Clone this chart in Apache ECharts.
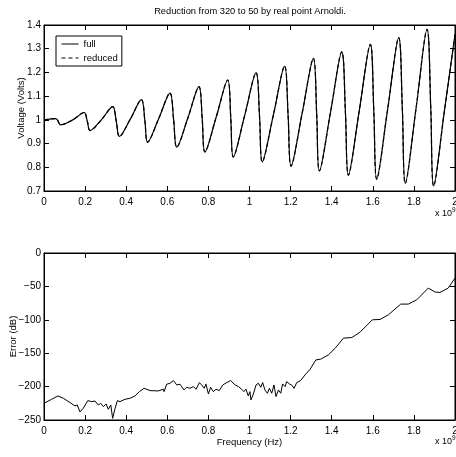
<!DOCTYPE html>
<html><head><meta charset="utf-8">
<script src="https://cdn.jsdelivr.net/npm/echarts@6/dist/echarts.min.js"></script>
<style>html,body{margin:0;padding:0;background:#fff}#c{width:456px;height:457px}</style>
</head><body><div id="c"></div>
<script>
// Frequency in units of 1e9 Hz
const voltX = [0, 0.058, 0.081, 0.14, 0.195, 0.211, 0.224, 0.279, 0.334, 0.352, 0.367, 0.420, 0.474, 0.491, 0.504,
  0.558, 0.613, 0.631, 0.646, 0.700, 0.754, 0.770, 0.783, 0.838, 0.894, 0.909, 0.921, 0.976, 1.032, 1.049, 1.062,
  1.116, 1.171, 1.188, 1.202, 1.256, 1.311, 1.327, 1.340, 1.394, 1.449, 1.467, 1.481, 1.534, 1.588, 1.605, 1.619,
  1.672, 1.726, 1.744, 1.758, 1.811, 1.864, 1.882, 1.896, 1.948, 2.0];
const voltFull = [1.0, 1.005, 0.979, 1.0, 1.031, 0.993, 0.955, 1.0, 1.056, 0.993, 0.930, 1.003, 1.085, 0.996, 0.906,
  1.005, 1.113, 0.999, 0.885, 1.008, 1.140, 1.003, 0.865, 1.012, 1.168, 1.006, 0.844, 1.017, 1.199, 1.011, 0.823,
  1.020, 1.227, 1.016, 0.805, 1.027, 1.259, 1.022, 0.785, 1.031, 1.287, 1.027, 0.767, 1.038, 1.318, 1.034, 0.750,
  1.043, 1.347, 1.040, 0.732, 1.052, 1.382, 1.052, 0.721, 1.035, 1.36];
const voltReduced = voltFull.slice();

const errX = [0, 0.037, 0.068, 0.094, 0.127, 0.151, 0.162, 0.175, 0.191, 0.213, 0.232, 0.248, 0.264, 0.276, 0.289,
  0.302, 0.313, 0.325, 0.334, 0.346, 0.357, 0.370, 0.394, 0.418, 0.443, 0.464, 0.487, 0.516, 0.556, 0.581, 0.584,
  0.597, 0.613, 0.630, 0.646, 0.662, 0.681, 0.694, 0.710, 0.727, 0.740, 0.756, 0.767, 0.780, 0.788, 0.800, 0.811,
  0.824, 0.837, 0.853, 0.870, 0.889, 0.908, 0.930, 0.946, 0.962, 0.973, 0.983, 0.994, 1.002, 1.007, 1.019, 1.032,
  1.043, 1.055, 1.064, 1.075, 1.087, 1.097, 1.108, 1.119, 1.129, 1.141, 1.152, 1.161, 1.173, 1.181, 1.194, 1.205,
  1.217, 1.230, 1.249, 1.270, 1.295, 1.323, 1.346, 1.384, 1.417, 1.457, 1.498, 1.538, 1.598, 1.635, 1.676, 1.736,
  1.773, 1.814, 1.870, 1.903, 1.927, 1.967, 2.0];
const errDb = [-225, -219, -214, -217.5, -224, -229, -227.5, -238, -232.5, -221, -222.5, -221.5, -227.5, -225, -230,
  -226, -234, -227.5, -247.5, -232.5, -221, -222.5, -219, -217.5, -214, -207.5, -202.5, -206, -206.5, -204, -207.5,
  -196.5, -195, -191, -197.5, -196.5, -205, -201, -202.5, -200, -204, -194, -197.5, -202.5, -196, -211, -201,
  -207.5, -204, -206, -197.5, -194, -191, -197.5, -200, -204, -207.5, -204, -214, -207.5, -220, -211, -197.5,
  -195, -201, -194, -205, -210, -202.5, -210, -197.5, -215, -205, -210, -196, -200, -192.5, -196, -197.5,
  -202.5, -194, -191, -182.5, -174, -160, -159, -152.5, -142.5, -127.5, -126.5, -118.5, -100, -99.5, -92.5, -76.5,
  -76.5, -70, -52.5, -58.5, -59, -52.5, -37.5];

const titleText = 'Reduction from 320 to 50 by real point Arnoldi.';
const xLabelBottom = 'Frequency (Hz)';
const yLabelTop = 'Voltage (Volts)';
const yLabelBottom = 'Error (dB)';
const seriesNames = ['full', 'reduced'];

const FONT = "'Liberation Sans', Arial, Helvetica, sans-serif";
const fmtNum = v => { const s = String(+(+v).toFixed(2)); return s.replace('-', '\u2212'); };

function xAx(grid, top, name) {
  return {
    type: 'value', gridIndex: grid, position: top ? 'top' : 'bottom', min: 0, max: 2, interval: 0.2,
    name: name || '', nameLocation: 'middle', nameGap: 17, nameMoveOverlap: false,
    nameTextStyle: { color: '#000', fontSize: 9.5, fontFamily: FONT },
    axisLine: { show: true, onZero: false, lineStyle: { color: '#000', width: 1 } },
    axisTick: { show: true, inside: true, length: 5, lineStyle: { color: '#000' } },
    axisLabel: { show: !top, color: '#000', fontSize: 10, fontFamily: FONT, margin: 6, formatter: fmtNum },
    splitLine: { show: false }
  };
}
function yAx(grid, right, min, max, interval, name, gap) {
  return {
    type: 'value', gridIndex: grid, position: right ? 'right' : 'left', min: min, max: max, interval: interval,
    name: name || '', nameLocation: 'middle', nameGap: gap || 20, nameMoveOverlap: false,
    nameTextStyle: { color: '#000', fontSize: 9.5, fontFamily: FONT },
    axisLine: { show: true, onZero: false, lineStyle: { color: '#000', width: 1 } },
    axisTick: { show: true, inside: true, length: 5, lineStyle: { color: '#000' } },
    axisLabel: { show: !right, color: '#000', fontSize: 10, fontFamily: FONT, margin: 3, formatter: fmtNum },
    splitLine: { show: false }
  };
}
const supStyle = { fontSize: 9, fontWeight: 'normal', color: '#000', fontFamily: FONT,
  rich: { s: { fontSize: 6.5, verticalAlign: 'top', padding: [0, 0, 7, 0], fontFamily: FONT, color: '#000' } } };

const chart = echarts.init(document.getElementById('c'), null, { renderer: 'canvas' });
chart.setOption({
  animation: false,
  backgroundColor: '#fff',
  title: [
    { text: titleText, left: 250, top: 7, textAlign: 'center', padding: 0,
      textStyle: { fontSize: 9.3, fontWeight: 'normal', color: '#000', fontFamily: FONT } },
    { text: 'x 10{s|9}', left: 435, top: 207, padding: 0, textStyle: supStyle },
    { text: 'x 10{s|9}', left: 435, top: 435, padding: 0, textStyle: supStyle }
  ],
  legend: {
    data: seriesNames, orient: 'vertical', left: 56, top: 36,
    backgroundColor: '#fff', borderColor: '#000', borderWidth: 1, borderRadius: 0,
    padding: [3, 4, 3, 5], itemGap: 4, itemWidth: 17, itemHeight: 10,
    itemStyle: { color: 'transparent', borderWidth: 0, opacity: 0 },
    lineStyle: { width: 1 },
    textStyle: { color: '#000', fontSize: 9.5, fontFamily: FONT }
  },
  grid: [
    { left: 44, top: 25, width: 411, height: 166, show: true, borderColor: '#000', borderWidth: 1,
      backgroundColor: 'transparent', outerBoundsMode: 'none', containLabel: false },
    { left: 44, top: 253, width: 411, height: 167, show: true, borderColor: '#000', borderWidth: 1,
      backgroundColor: 'transparent', outerBoundsMode: 'none', containLabel: false }
  ],
  xAxis: [xAx(0, false), xAx(0, true), xAx(1, false, xLabelBottom), xAx(1, true)],
  yAxis: [
    yAx(0, false, 0.7, 1.4, 0.1, yLabelTop, 18), yAx(0, true, 0.7, 1.4, 0.1),
    yAx(1, false, -250, 0, 50, yLabelBottom, 26), yAx(1, true, -250, 0, 50)
  ],
  series: [
    { name: seriesNames[0], type: 'line', xAxisIndex: 0, yAxisIndex: 0, showSymbol: false, symbol: 'none', smooth: 0.35,
      data: voltX.map((x, i) => [x, voltFull[i]]), lineStyle: { color: '#000', width: 1.2, type: 'solid' }, itemStyle: { color: '#000' } },
    { name: seriesNames[1], type: 'line', xAxisIndex: 0, yAxisIndex: 0, showSymbol: false, symbol: 'none', smooth: 0.35,
      data: voltX.map((x, i) => [x, voltReduced[i]]), lineStyle: { color: '#000', width: 1.2, type: [4, 3] }, itemStyle: { color: '#000' } },
    { name: 'error', type: 'line', xAxisIndex: 2, yAxisIndex: 2, showSymbol: false, symbol: 'none', smooth: false,
      data: errX.map((x, i) => [x, errDb[i]]), lineStyle: { color: '#000', width: 1 }, itemStyle: { color: '#000' } }
  ]
});
</script></body></html>
